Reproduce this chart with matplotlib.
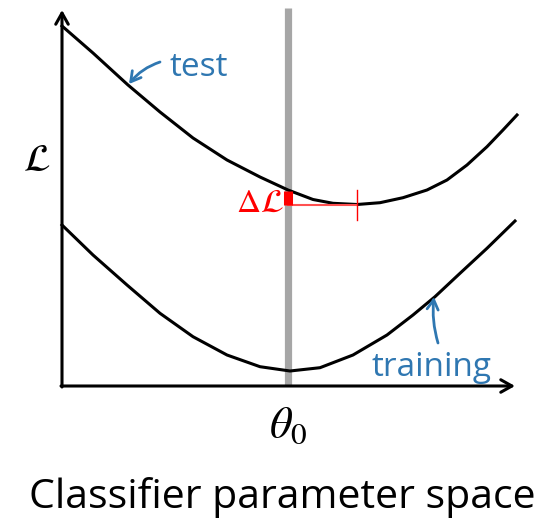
import matplotlib
matplotlib.use("Agg")
import matplotlib.pyplot as plt

plt.rcParams['mathtext.fontset'] = 'stix'

# curves (theta along the axis, loss above the axis)
test_theta = [0, 31, 66, 98, 131, 165, 198, 226, 251, 271, 295, 318, 341, 365, 385, 405, 425, 441, 455]
test_loss = [360, 333, 301, 274, 248, 226, 209, 196, 186.5, 182.7, 181.5, 183.3, 188.3, 196, 206, 221,
             239.3, 256, 271]
train_theta = [0, 31, 65, 98, 131, 165, 198, 228, 258, 291, 325, 351, 373, 398, 425, 453]
train_loss = [161, 131, 101, 72.7, 49.3, 31, 19.3, 15, 18.3, 31, 51, 71, 89.3, 112.7, 137.7, 165]

theta0 = 226
theta_min = 295
loss_at_theta0 = 195
loss_min = 181

x_end = 453
y_end = 376

blue = '#2f77b1'

fig = plt.figure(figsize=(5.45, 5.22), dpi=100)
ax = fig.add_axes([0, 0, 1, 1])
ax.set_xlim(-62, 483)
ax.set_ylim(-136, 386)
ax.axis('off')

# theta0 marker
ax.plot([theta0, theta0], [0, 378], color='#a6a6a6', lw=5.2, solid_capstyle='butt', zorder=1)

# axes with open arrow heads
arrow = dict(arrowstyle='->,head_length=0.8,head_width=0.45', lw=2.2, color='black',
             shrinkA=0, shrinkB=0)
ax.annotate('', xy=(x_end, 0), xytext=(-1, 0), arrowprops=arrow)
ax.annotate('', xy=(0, y_end), xytext=(0, -1), arrowprops=arrow)

ax.plot(test_theta, test_loss, color='black', lw=2.2, zorder=3, solid_joinstyle='round')
ax.plot(train_theta, train_loss, color='black', lw=2.2, zorder=3, solid_joinstyle='round')

# delta L
ax.plot([theta0, theta_min], [loss_min, loss_min], color='#ff5050', lw=1.5, zorder=4)
ax.plot([theta_min, theta_min], [loss_min - 15, loss_min + 15], color='red', lw=1.0, zorder=4)
ax.plot([theta0, theta0], [loss_min, loss_at_theta0], color='red', lw=6.5,
        solid_capstyle='butt', zorder=5)
ax.text(theta0 - 28, 184, r'$\Delta\mathcal{L}$', color='red', fontsize=24,
        ha='center', va='center')

# labels
ax.text(-25, 226, r'$\mathcal{L}$', fontsize=28, ha='center', va='center')
ax.text(theta0, -39, r'$\theta_0$', fontsize=32, ha='center', va='center')
ax.text(220, -111, 'Classifier parameter space', fontsize=29.5, family='Open Sans',
        ha='center', va='center')

ax.text(137, 318, 'test', fontsize=24, family='Open Sans', color=blue, ha='center', va='center')
ax.annotate('', xy=(67, 302), xytext=(98, 324),
            arrowprops=dict(arrowstyle='->,head_length=0.7,head_width=0.4', lw=2, color=blue,
                            shrinkA=0, shrinkB=0, connectionstyle='arc3,rad=0.15'))
ax.text(369, 19, 'training', fontsize=24, family='Open Sans', color=blue, ha='center', va='center')
ax.annotate('', xy=(372, 89), xytext=(376, 43),
            arrowprops=dict(arrowstyle='->,head_length=0.7,head_width=0.4', lw=2, color=blue,
                            shrinkA=0, shrinkB=0, connectionstyle='arc3,rad=-0.1'))

fig.savefig('out.png', dpi=100)
